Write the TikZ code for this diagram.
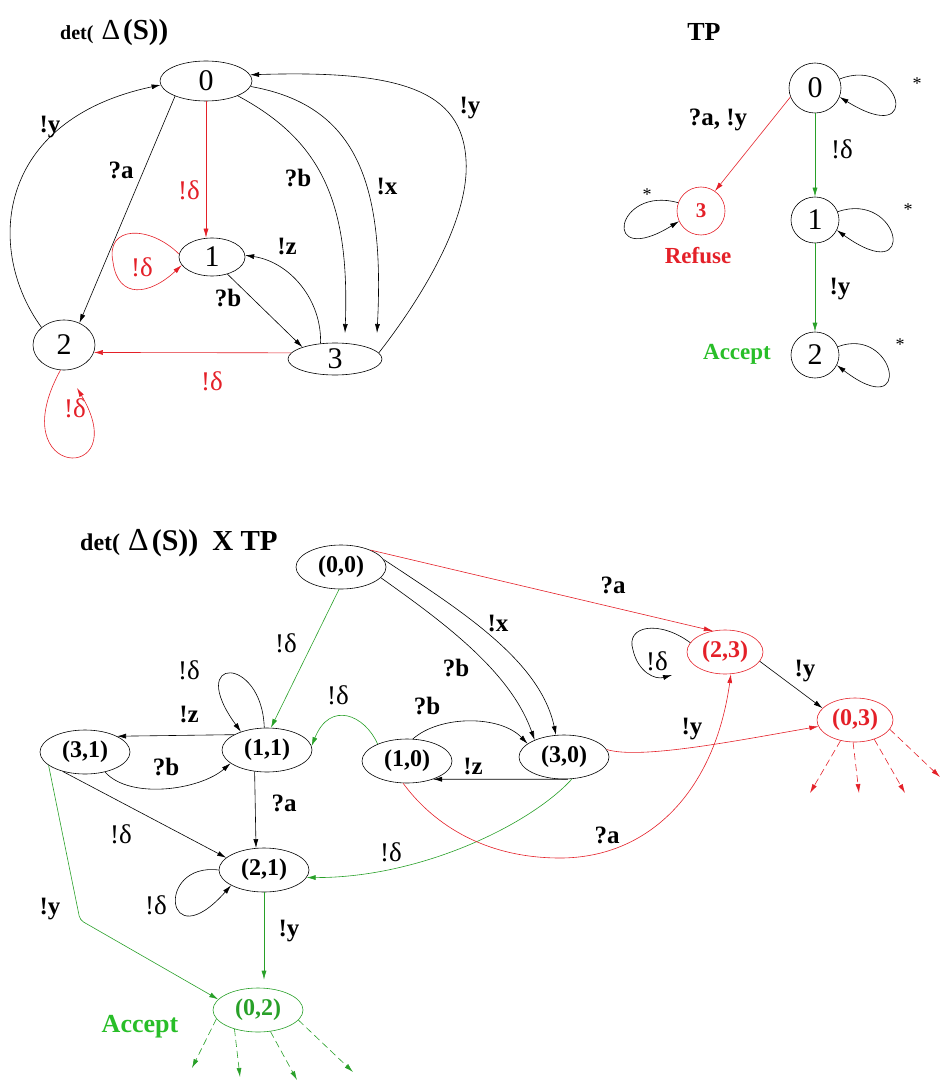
\documentclass[tikz,border=0pt]{standalone}
\usepackage{fontspec}
\setmainfont{Liberation Serif}
\usetikzlibrary{arrows.meta,shapes.geometric,calc}
\definecolor{myred}{RGB}{228,32,40}
\definecolor{mygreen}{RGB}{40,160,40}
\definecolor{accgreen}{RGB}{40,190,40}
\tikzset{
  st/.style={draw, ellipse, inner sep=0pt, line width=0.6pt},
  bst/.style={st, minimum width=90pt, minimum height=44pt, font=\bfseries\fontsize{24}{24}\selectfont},
  rst/.style={st, draw=myred, text=myred, minimum width=76pt, minimum height=44pt, font=\bfseries\fontsize{24}{24}\selectfont},
  gst/.style={st, draw=mygreen, text=mygreen, minimum width=90pt, minimum height=44pt, font=\bfseries\fontsize{24}{24}\selectfont},
  dig/.style={font=\fontsize{30}{30}\selectfont},
  lab/.style={font=\bfseries\fontsize{25}{25}\selectfont, inner sep=0pt},
  dl/.style={font=\fontsize{27}{27}\selectfont, inner sep=0pt},
  star/.style={font=\fontsize{18}{18}\selectfont, inner sep=0pt},
  arr/.style={-{Latex[length=9pt,width=5pt]}, line width=0.6pt},
  dsh/.style={arr, dash pattern=on 7pt off 4pt},
}
\begin{document}
\begin{tikzpicture}[x=1pt,y=-1pt]
\useasboundingbox (0,0) rectangle (940,1083);

% ---------------- top-left: det(Delta(S)) ----------------
\node[anchor=base west, inner sep=0pt] (t1) at (60,40)
  {{\bfseries\fontsize{20}{20}\selectfont det(}\hspace{8pt}{\fontsize{29}{29}\selectfont Δ}\hspace{3pt}{\bfseries\fontsize{29}{29}\selectfont (S))}};

\node[st, dig, minimum width=92pt, minimum height=40pt] (A0) at (206,81) {0};
\node[st, dig, minimum width=66pt, minimum height=38pt] (A1) at (212,257) {1};
\node[st, dig, minimum width=62pt, minimum height=50pt] (A2) at (64,345) {2};
\node[st, dig, minimum width=94pt, minimum height=32pt] (A3) at (335,359) {3};
\coordinate (A3b) at (345,333);
\coordinate (A3x) at (377,333);
\coordinate (L2) at (77,388);

\draw[arr] (A0.206) -- (A2.55);
\draw[arr] (A2.142) .. controls (-15,250) and (-5,120) .. (A0.185);
\draw[arr, myred] (A0.south) -- (A0.south |- A1.north);
\draw[arr, myred] (A1.175) .. controls (150,225) and (105,225) .. (113,262) .. controls (118,300) and (150,295) .. (A1.195);
\draw[arr] (A1.312) -- (A3.160);
\draw[arr] (A3.133) .. controls (322,300) and (290,262) .. (A1.3);
\draw[arr] (A0.335) .. controls (320,140) and (350,200) .. (A3b);
\draw[arr] (A0.353) .. controls (355,105) and (385,180) .. (A3x);
\draw[arr] (A3.8) .. controls (420,300) and (470,220) .. (466,160) .. controls (462,90) and (400,70) .. (A0.8);
\draw[arr, myred] (A3.172) -- (A2.-14);
\draw[arr, myred] (A2.262) .. controls (0,480) and (135,485) .. (L2);

\node[lab] (a1) at (50,127) {!y};
\node[lab] (a2) at (121,170) {?a};
\node[dl, text=myred] (a3) at (189,190) {!δ};
\node[lab] (a4) at (298,178) {?b};
\node[lab] (a5) at (387,186) {!x};
\node[lab] (a6) at (470,108) {!y};
\node[lab] (a7) at (287,246) {!z};
\node[dl, text=myred] (a8) at (142,267) {!δ};
\node[lab] (a9) at (228,298) {?b};
\node[dl, text=myred] (a10) at (212,381) {!δ};
\node[dl, text=myred] (a11) at (75,408) {!δ};

% ---------------- top-right: TP ----------------
\node[lab, font=\bfseries\fontsize{26}{26}\selectfont] (t2) at (704,32) {TP};
\node[st, dig, minimum width=52pt, minimum height=50pt] (T0) at (815,88) {0};
\node[st, dig, minimum width=48pt, minimum height=46pt] (T1) at (815,220) {1};
\node[st, dig, minimum width=48pt, minimum height=46pt] (T2) at (815,355) {2};
\node[st, draw=myred, text=myred, minimum width=48pt, minimum height=48pt, font=\bfseries\fontsize{21}{21}\selectfont] (T3) at (701,211) {3};

\draw[arr, myred] (T0.200) -- (T3.55);
\draw[arr, mygreen] (T0.south) -- (T1.north);
\draw[arr, mygreen] (T1.south) -- (T2.north);
\draw[arr] (T0.20) .. controls (900,55) and (925,150) .. (T0.-20);
\draw[arr] (T1.20) .. controls (900,190) and (920,290) .. (T1.-25);
\draw[arr] (T2.20) .. controls (895,325) and (915,425) .. (T2.-25);
\draw[arr] (T3.160) .. controls (615,185) and (600,270) .. (T3.205);

\node[lab] (b1) at (718,120) {?a, !y};
\node[dl] (b2) at (842,149) {!δ};
\node[lab] (b3) at (840,289) {!y};
\node[star] (b4) at (917,84) {*};
\node[star] (b5) at (908,210) {*};
\node[star] (b6) at (900,345) {*};
\node[star] (b7) at (647,195) {*};
\node[lab, text=myred, font=\bfseries\fontsize{23}{23}\selectfont] (b8) at (698,256) {Refuse};
\node[lab, text=accgreen, font=\bfseries\fontsize{23}{23}\selectfont] (b9) at (737,354) {Accept};

% ---------------- bottom: product ----------------
\node[anchor=base west, inner sep=0pt] (t3) at (80,550)
  {{\bfseries\fontsize{24}{24}\selectfont det(}\hspace{8pt}{\fontsize{32}{32}\selectfont Δ}\hspace{3pt}{\bfseries\fontsize{30}{30}\selectfont (S))}\hspace{14pt}{\bfseries\fontsize{29}{29}\selectfont X TP}};

\node[bst] (B00) at (341,567) {(0,0)};
\node[bst] (B11) at (267,750) {(1,1)};
\node[bst] (B31) at (85,752) {(3,1)};
\node[bst] (B10) at (407,761) {(1,0)};
\node[bst] (B30) at (564,757) {(3,0)};
\node[bst] (B21) at (264,870) {(2,1)};
\node[rst] (B23) at (725,652) {(2,3)};
\node[rst] (B03) at (855,720) {(0,3)};
\node[gst] (B02) at (258,1010) {(0,2)};

\coordinate (L23) at (672,675);
\coordinate (D1) at (810,793);
\coordinate (D2) at (859,793);
\coordinate (D3) at (905,793);
\coordinate (D4) at (940,777);
\coordinate (G1) at (192,1068);
\coordinate (G2) at (240,1077);
\coordinate (G3) at (297,1080);
\coordinate (G4) at (353,1072);

\draw[arr, mygreen] (B00.265) -- (B11.80);
\draw[arr] (B11.97) .. controls (262,655) and (185,655) .. (B11.145);
\draw[arr] (B11.155) -- (B31.north east);
\draw[arr] (B31.-45) .. controls (130,800) and (200,790) .. (B11.200);
\draw[arr] (B11.240) -- (B21.110);
\draw[arr] (B31.221) -- (B21.162);
\draw[arr] (B21.180) .. controls (155,862) and (165,960) .. (B21.205);
\draw[arr, mygreen, shorten >=8pt] (B21.south) -- (B21.south |- B02.north);
\draw[arr, mygreen, rounded corners=4pt] (B31.200) -- (80,920) -- (B02.165);
\draw[arr, mygreen] (B10.150) .. controls (365,715) and (330,700) .. (B11.5);
\draw[arr] (B00.-15) .. controls (440,620) and (510,670) .. (B30.150);
\draw[arr] (B00.10) .. controls (460,610) and (540,660) .. (B30.110);
\draw[arr] (B10.75) .. controls (440,715) and (500,715) .. (B30.160);
\draw[arr] (B30.-80) -- (B10.-35);
\draw[arr, mygreen] (B30.-70) .. controls (530,825) and (420,878) .. (B21.-10);
\draw[arr, myred] (B10.-100) .. controls (430,820) and (480,858) .. (560,858) .. controls (650,858) and (715,790) .. (B23.-75);
\draw[arr, myred] (B00.30) -- (B23.120);
\draw[arr, myred] (B30.10) .. controls (640,760) and (740,740) .. (B03.190);
\draw[arr] (B23.165) .. controls (660,620) and (625,625) .. (633,650) .. controls (638,672) and (655,680) .. (L23);
\draw[arr] (B23.-15) -- (B03.160);

\draw[dsh, myred] (B03.-125) -- (D1);
\draw[dsh, myred] (B03.-95) -- (D2);
\draw[dsh, myred] (B03.-45) -- (D3);
\draw[dsh, myred] (B03.-15) -- (D4);
\draw[dsh, mygreen] (B02.192) -- (G1);
\draw[dsh, mygreen] (B02.219) -- (G2);
\draw[dsh, mygreen] (B02.-60) -- (G3);
\draw[dsh, mygreen] (B02.-14) -- (G4);

\node[lab] (c1) at (613,585) {?a};
\node[lab] (c2) at (498,623) {!x};
\node[dl] (c3) at (286,643) {!δ};
\node[lab] (c4) at (456,668) {?b};
\node[dl] (c5) at (189,670) {!δ};
\node[dl] (c6) at (338,695) {!δ};
\node[lab] (c7) at (427,706) {?b};
\node[lab] (c8) at (189,714) {!z};
\node[lab] (c9) at (692,729) {!y};
\node[dl] (c10) at (657,661) {!δ};
\node[lab] (c11) at (805,671) {!y};
\node[lab] (c12) at (166,767) {?b};
\node[lab] (c13) at (473,766) {!z};
\node[lab] (c14) at (284,803) {?a};
\node[dl] (c15) at (121,834) {!δ};
\node[lab] (c16) at (607,835) {?a};
\node[dl] (c17) at (391,852) {!δ};
\node[dl] (c18) at (156,905) {!δ};
\node[lab] (c19) at (50,909) {!y};
\node[lab] (c20) at (289,931) {!y};
\node[lab, text=accgreen, font=\bfseries\fontsize{26}{26}\selectfont] (c21) at (140,1027) {Accept};
\end{tikzpicture}
\end{document}
